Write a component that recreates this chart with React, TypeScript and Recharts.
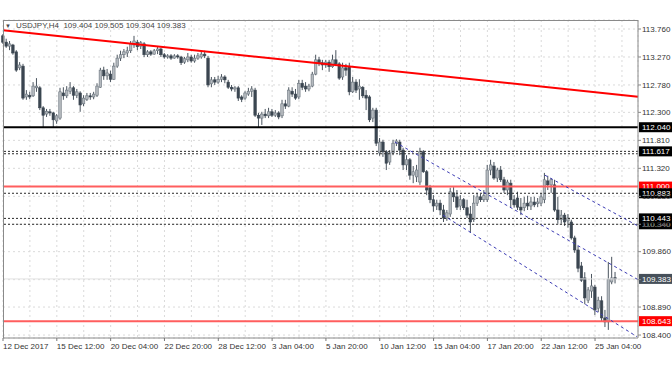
import { ComposedChart, Bar, XAxis, YAxis, CartesianGrid, ReferenceLine } from "recharts";

// USDJPY H4, bars from 12 Dec 2017 20:00 to 26 Jan 2018 04:00
const opens = [
  113.64, 113.53, 113.46, 113.48, 113.36, 113.08, 113.11, 112.57, 112.6, 112.59,
  112.73, 112.73, 112.38, 112.27, 112.31, 112.29, 112.15, 112.2, 112.64, 112.59,
  112.67, 112.73, 112.6, 112.64, 112.45, 112.53, 112.59, 112.57, 112.6, 112.74,
  113.04, 112.94, 112.97, 112.88, 113.11, 113.25, 113.31, 113.34, 113.38, 113.48,
  113.53, 113.46, 113.5, 113.31, 113.36, 113.32, 113.38, 113.41, 113.31, 113.27,
  113.29, 113.25, 113.29, 113.27, 113.18, 113.22, 113.27, 113.2, 113.25, 113.27,
  113.32, 113.25, 112.8, 112.87, 112.83, 112.88, 112.92, 112.83, 112.74, 112.71,
  112.73, 112.57, 112.55, 112.62, 112.67, 112.69, 112.25, 112.2, 112.27, 112.24,
  112.31, 112.25, 112.29, 112.24, 112.45, 112.41, 112.67, 112.62, 112.57, 112.81,
  112.76, 112.71, 112.76, 112.97, 113.22, 113.17, 113.13, 113.18, 113.1, 113.22,
  113.15, 112.92, 113.08, 113.1, 112.66, 112.83, 112.71, 112.74, 112.6, 112.57,
  112.2, 112.34, 111.59, 111.78, 111.61, 111.43, 111.59, 111.76, 111.78, 111.64,
  111.38, 111.47, 111.2, 111.17, 111.08, 111.61, 111.26, 110.98, 110.77, 110.66,
  110.71, 110.59, 110.45, 110.52, 110.89, 110.82, 110.66, 110.77, 110.63, 110.52,
  110.42, 110.71, 110.82, 110.77, 110.77, 111.29, 111.36, 111.15, 111.29, 111.12,
  110.94, 111.06, 110.77, 110.8, 110.64, 110.63, 110.71, 110.66, 110.73, 110.7,
  110.71, 110.77, 111.1, 111.03, 111.03, 110.59, 110.42, 110.5, 110.4, 110.38,
  110.1, 109.89, 109.61, 109.4, 109.01, 109.17, 109.24, 108.87, 109.0, 108.7,
  108.63, 109.33, 109.404,
];

const highs = [
  113.67, 113.59, 113.55, 113.5, 113.39, 113.18, 113.15, 112.69, 112.66, 112.83,
  112.9, 112.76, 112.41, 112.36, 112.36, 112.31, 112.27, 112.73, 112.74, 112.76,
  112.83, 112.76, 112.71, 112.67, 112.6, 112.64, 112.64, 112.66, 112.81, 113.08,
  113.1, 113.06, 113.03, 113.17, 113.31, 113.38, 113.41, 113.45, 113.55, 113.64,
  113.57, 113.55, 113.53, 113.39, 113.39, 113.41, 113.45, 113.43, 113.34, 113.32,
  113.32, 113.32, 113.32, 113.29, 113.27, 113.34, 113.31, 113.31, 113.34, 113.36,
  113.38, 113.29, 112.92, 112.92, 112.94, 112.97, 112.95, 112.87, 112.78, 112.76,
  112.76, 112.6, 112.67, 112.73, 112.76, 112.73, 112.29, 112.31, 112.36, 112.38,
  112.36, 112.34, 112.32, 112.52, 112.52, 112.74, 112.74, 112.71, 112.87, 112.87,
  112.83, 112.8, 113.01, 113.31, 113.27, 113.22, 113.22, 113.22, 113.31, 113.39,
  113.18, 113.17, 113.15, 113.17, 112.92, 112.88, 112.88, 112.76, 112.69, 112.6,
  112.38, 112.38, 111.85, 111.82, 111.64, 111.64, 111.82, 111.83, 111.82, 111.68,
  111.55, 111.5, 111.36, 111.38, 111.68, 111.64, 111.29, 111.03, 110.85, 110.77,
  110.77, 110.68, 110.59, 110.98, 110.99, 110.94, 110.85, 110.8, 110.77, 110.66,
  110.85, 110.89, 110.87, 110.94, 111.38, 111.47, 111.43, 111.33, 111.36, 111.17,
  111.12, 111.12, 110.85, 110.91, 110.8, 110.82, 110.84, 110.82, 110.82, 110.8,
  110.89, 111.24, 111.19, 111.15, 111.12, 110.82, 110.59, 110.54, 110.52, 110.42,
  110.14, 109.96, 109.68, 109.5, 109.24, 109.47, 109.28, 109.07, 109.08, 108.84,
  109.68, 109.77, 109.505,
];

const lows = [
  113.5, 113.43, 113.39, 113.31, 113.01, 113.04, 112.52, 112.52, 112.53, 112.57,
  112.66, 112.34, 112.04, 112.22, 112.24, 112.04, 112.1, 112.17, 112.52, 112.55,
  112.62, 112.52, 112.55, 112.31, 112.41, 112.5, 112.52, 112.53, 112.57, 112.73,
  112.87, 112.87, 112.83, 112.87, 113.08, 113.2, 113.25, 113.27, 113.34, 113.43,
  113.39, 113.41, 113.27, 113.27, 113.29, 113.31, 113.32, 113.27, 113.24, 113.24,
  113.22, 113.24, 113.24, 113.13, 113.15, 113.18, 113.17, 113.17, 113.22, 113.24,
  113.25, 112.74, 112.74, 112.78, 112.8, 112.83, 112.81, 112.71, 112.67, 112.66,
  112.5, 112.48, 112.52, 112.59, 112.57, 112.22, 112.04, 112.08, 112.2, 112.2,
  112.22, 112.22, 112.18, 112.2, 112.36, 112.39, 112.57, 112.52, 112.53, 112.69,
  112.66, 112.67, 112.74, 112.95, 113.11, 113.04, 113.08, 113.01, 113.08, 113.11,
  112.87, 112.87, 112.94, 112.6, 112.64, 112.64, 112.52, 112.55, 112.34, 112.13,
  112.13, 111.71, 111.54, 111.52, 111.29, 111.38, 111.55, 111.71, 111.55, 111.29,
  111.29, 111.12, 111.06, 111.08, 111.03, 111.24, 110.85, 110.71, 110.56, 110.59,
  110.5, 110.38, 110.4, 110.47, 110.73, 110.59, 110.59, 110.59, 110.45, 110.19,
  110.38, 110.66, 110.73, 110.73, 110.73, 111.2, 111.12, 111.08, 111.08, 110.89,
  110.85, 110.64, 110.63, 110.59, 110.5, 110.57, 110.59, 110.59, 110.64, 110.64,
  110.66, 110.71, 110.94, 110.89, 110.56, 110.35, 110.35, 110.31, 110.28, 110.07,
  109.84, 109.5, 109.33, 108.94, 108.96, 109.05, 108.75, 108.8, 108.63, 108.54,
  108.49, 109.29, 109.304,
];

const closes = [
  113.53, 113.46, 113.5, 113.34, 113.04, 113.13, 112.55, 112.62, 112.57, 112.76,
  112.76, 112.38, 112.25, 112.32, 112.29, 112.17, 112.24, 112.66, 112.59, 112.69,
  112.73, 112.6, 112.66, 112.43, 112.55, 112.59, 112.57, 112.62, 112.76, 113.04,
  112.94, 112.99, 112.88, 113.11, 113.25, 113.31, 113.36, 113.38, 113.5, 113.55,
  113.45, 113.52, 113.31, 113.36, 113.32, 113.38, 113.41, 113.31, 113.27, 113.29,
  113.25, 113.29, 113.27, 113.17, 113.24, 113.27, 113.2, 113.25, 113.29, 113.32,
  113.29, 112.78, 112.87, 112.83, 112.88, 112.92, 112.87, 112.74, 112.71, 112.73,
  112.55, 112.53, 112.64, 112.67, 112.71, 112.25, 112.2, 112.27, 112.24, 112.31,
  112.25, 112.29, 112.22, 112.45, 112.41, 112.69, 112.62, 112.55, 112.81, 112.74,
  112.71, 112.76, 112.97, 113.22, 113.17, 113.13, 113.18, 113.1, 113.22, 113.15,
  112.9, 113.08, 113.04, 112.66, 112.83, 112.69, 112.76, 112.59, 112.55, 112.17,
  112.34, 111.76, 111.78, 111.61, 111.41, 111.59, 111.76, 111.8, 111.64, 111.38,
  111.47, 111.2, 111.26, 111.29, 111.61, 111.26, 110.94, 110.77, 110.66, 110.71,
  110.59, 110.45, 110.54, 110.91, 110.82, 110.64, 110.77, 110.63, 110.5, 110.38,
  110.71, 110.82, 110.77, 110.84, 111.29, 111.38, 111.15, 111.29, 111.12, 110.94,
  111.08, 110.77, 110.68, 110.64, 110.59, 110.71, 110.66, 110.73, 110.68, 110.73,
  110.82, 111.12, 111.03, 111.12, 110.59, 110.42, 110.5, 110.38, 110.45, 110.1,
  109.89, 109.57, 109.36, 109.05, 109.19, 109.26, 108.84, 109.01, 108.7, 108.63,
  109.38, 109.4, 109.383,
];

// one label every 16 bars
const timeLabels = [
  "12 Dec 2017", "15 Dec 12:00", "20 Dec 04:00", "22 Dec 20:00", "28 Dec 12:00", "3 Jan 04:00",
  "5 Jan 20:00", "10 Jan 12:00", "15 Jan 04:00", "17 Jan 20:00", "22 Jan 12:00", "25 Jan 04:00",
];
const priceTicks = [113.76, 113.27, 112.78, 112.3, 111.81, 111.32, 110.83, 110.34, 109.86, 109.37, 108.89, 108.4];

const lastPrice = 109.383;
const supportLevel = 112.04;
const dottedLevels = [111.617, 111.575, 110.883, 110.443, 110.34];
const redLevels = [111.0, 108.643];

// price tags on the right scale, drawn in this order
const tagPrices = [112.04, 111.617, 111.0, 110.883, 110.34, 110.443, 109.383, 108.643];
const tagKinds = ["line", "line", "red", "line", "line", "line", "last", "red"];

// trend lines: [bar index, price]
const resistanceLine = [[0, 113.74], [188.77, 112.575]];
const channelMid = [[116.5, 111.78], [188.77, 109.37]];
const channelLow = [[130.8, 110.5], [188.5, 108.37]];
const channelHigh = [[161.1, 111.2], [188.77, 110.31]];

const data = opens.map((o, i) => ({ i, open: o, high: highs[i], low: lows[i], close: closes[i] }));

const FONT = "'Liberation Sans', Arial, sans-serif";
const X_DOMAIN = [0, 188.77];
const Y_DOMAIN = [108.348, 113.918];
const TAG_BG: Record<string, string> = { line: "#000", red: "#ff0000", last: "#46505a" };

function Candle(props: any) {
  const { x, y, width, height, payload } = props;
  if (x == null || y == null || !payload) return null;
  const { open, close, high, low } = payload;
  const cx = x + width / 2;
  const top = Math.min(y, y + height);
  const h = Math.abs(height);
  const k = high === low ? 0 : h / (high - low);
  const yO = top + (high - open) * k;
  const yC = top + (high - close) * k;
  const bull = close >= open;
  const bodyTop = Math.min(yO, yC);
  const bodyH = Math.max(1, Math.abs(yC - yO));
  return (
    <g>
      <line x1={cx} x2={cx} y1={top} y2={top + h} stroke="#4a545e" strokeWidth={1} />
      <rect
        x={cx - 1.25}
        y={bodyTop}
        width={2.5}
        height={bodyH}
        fill={bull ? "#b4b9be" : "#3b4651"}
        stroke={bull ? "#6b757e" : "#3b4651"}
        strokeWidth={0.6}
      />
    </g>
  );
}

function TimeTick(props: any) {
  const { x, y, payload } = props;
  const idx = payload.value;
  if (idx % 16 !== 0 || !timeLabels[idx / 16]) return null;
  return (
    <g>
      <line x1={x} x2={x} y1={y - 5} y2={y - 2} stroke="#777" />
      <text x={x} y={y + 6} fontSize={8} fontFamily={FONT} fill="#333" textAnchor="start">
        {timeLabels[idx / 16]}
      </text>
    </g>
  );
}

// the tick under the last-price tag is covered in the terminal
function PriceTick(props: any) {
  const { x, y, payload } = props;
  if (Math.abs(payload.value - lastPrice) < 0.03) return null;
  return (
    <text x={x} y={y} dy="0.35em" fontSize={8} fontFamily={FONT} fill="#333" textAnchor="start">
      {payload.value.toFixed(3)}
    </text>
  );
}

function PriceTag(bg: string, text: string) {
  return (props: any) => {
    const vb = props.viewBox;
    if (!vb) return null;
    const x = vb.x + vb.width;
    const y = vb.y;
    return (
      <g>
        <rect x={x + 1} y={y - 5} width={33} height={10} fill={bg} />
        <text x={x + 4} y={y} dy="0.35em" fontSize={8} fontFamily={FONT} fill="#fff">
          {text}
        </text>
      </g>
    );
  };
}

const seg = (pts: number[][]) => pts.map(([x, y]) => ({ x, y }));

export default function App() {
  return (
    <div style={{ position: "absolute", left: 0, top: 0, width: 672, height: 372, background: "#fff" }}>
      <ComposedChart width={672} height={372} data={data} margin={{ top: 20, right: 0, bottom: 0, left: 3 }}>
        <CartesianGrid stroke="#dadada" strokeDasharray="2 3" />
        <XAxis
          dataKey="i"
          type="number"
          domain={X_DOMAIN}
          ticks={Array.from({ length: 24 }, (_, k) => k * 8)}
          interval={0}
          height={34}
          tickSize={3}
          tickMargin={2}
          tickLine={false}
          axisLine={{ stroke: "#8a8a8a" }}
          tick={<TimeTick />}
        />
        <YAxis
          orientation="right"
          type="number"
          domain={Y_DOMAIN}
          ticks={priceTicks}
          interval={0}
          width={34}
          tickSize={3}
          tickMargin={1}
          axisLine={{ stroke: "#8a8a8a" }}
          tickLine={{ stroke: "#8a8a8a" }}
          tick={<PriceTick />}
        />
        <ReferenceLine y={lastPrice} stroke="#e2e2e2" />
        {dottedLevels.map((p) => (
          <ReferenceLine key={"d" + p} y={p} stroke="#2a2a2a" strokeDasharray="2 2" />
        ))}
        {redLevels.map((p) => (
          <ReferenceLine key={"r" + p} y={p} stroke="#ff5e5e" strokeWidth={2} />
        ))}
        <ReferenceLine y={supportLevel} stroke="#000" strokeWidth={2} />
        <Bar
          dataKey={(d: any) => [d.low, d.high]}
          barSize={3}
          shape={<Candle />}
          isAnimationActive={false}
        />
        <ReferenceLine segment={seg(resistanceLine)} stroke="#ff0000" strokeWidth={2} ifOverflow="visible" />
        {[channelMid, channelLow, channelHigh].map((c, k) => (
          <ReferenceLine key={"c" + k} segment={seg(c)} stroke="#3c3cb4" strokeDasharray="3 3" ifOverflow="visible" />
        ))}
        {tagPrices.map((p, k) => (
          <ReferenceLine
            key={"t" + k}
            y={p}
            stroke="none"
            label={{ content: PriceTag(TAG_BG[tagKinds[k]], p.toFixed(3)) }}
          />
        ))}
      </ComposedChart>

      <div
        style={{
          position: "absolute",
          left: 3,
          top: 20,
          width: 635,
          height: 318,
          borderLeft: "1px solid #8a8a8a",
          borderTop: "1px solid #8a8a8a",
          boxSizing: "border-box",
          pointerEvents: "none",
        }}
      />
      <div
        style={{
          position: "absolute",
          left: 5,
          top: 21,
          fontFamily: FONT,
          fontSize: 8,
          lineHeight: "10px",
          color: "#444",
          whiteSpace: "pre",
        }}
      >
        <span style={{ fontSize: 6, marginRight: 5 }}>▼</span>
        {"USDJPY,H4  109.404 109.505 109.304 109.383"}
      </div>
    </div>
  );
}
